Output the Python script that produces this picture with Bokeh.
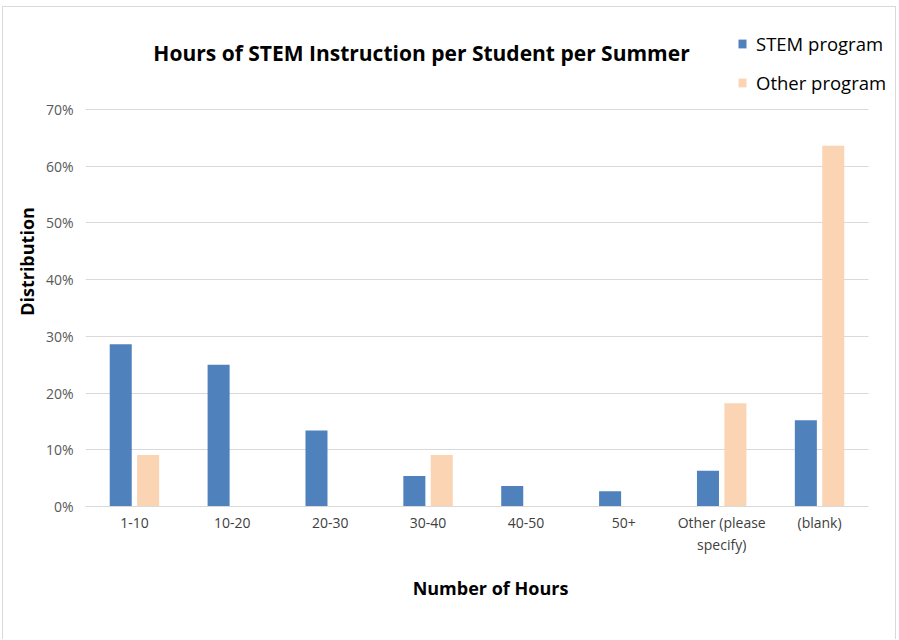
from bokeh.plotting import figure
from bokeh.models import (ColumnDataSource, Range1d, NumeralTickFormatter, FixedTicker,
                          Legend, LegendItem, Label, Grid)
from bokeh.transform import dodge
from bokeh.embed import file_html
from bokeh.resources import INLINE

# ---- data ----
categories = ["1-10", "10-20", "20-30", "30-40", "40-50", "50+",
              "Other (please\nspecify)", "(blank)"]
stem_program = [0.286, 0.250, 0.134, 0.054, 0.036, 0.027, 0.063, 0.152]
other_program = [0.091, 0.0, 0.0, 0.091, 0.0, 0.0, 0.182, 0.636]
series_names = ["STEM program", "Other program"]
y_ticks = [0.0, 0.1, 0.2, 0.3, 0.4, 0.5, 0.6, 0.7]
title_text = "Hours of STEM Instruction per Student per Summer"
x_title = "Number of Hours"
y_title = "Distribution"

STEM_COLOR = "#4F81BD"
OTHER_COLOR = "#FBD4B4"
FONT = "Open Sans"

idx = list(range(len(categories)))
centers = [i + 0.5 for i in idx]
src = ColumnDataSource(dict(xc=centers, stem=stem_program, other=other_program))

# figure placed at page (3,7) inside a light-grey border (left/top/right)
p = figure(width=894, height=633, x_range=Range1d(0, 8.276),
           y_range=Range1d(0, 0.864), output_backend="svg", toolbar_location=None,
           min_border_left=82, min_border_right=2, min_border_top=9,
           min_border_bottom=134)
p.styles = {"margin-left": "2px", "margin-top": "6px",
            "border-left": "1px solid #d9d9d9", "border-top": "1px solid #d9d9d9",
            "border-right": "1px solid #d9d9d9"}
p.outline_line_color = None
p.background_fill_color = "white"
p.border_fill_color = "white"

r1 = p.vbar(x=dodge("xc", -0.14), top="stem", width=0.225,
            source=src, fill_color=STEM_COLOR, line_color=None)
r2 = p.vbar(x=dodge("xc", 0.14), top="other", width=0.225,
            source=src, fill_color=OTHER_COLOR, line_color=None)

# axes
p.yaxis.ticker = FixedTicker(ticks=y_ticks)
p.yaxis.formatter = NumeralTickFormatter(format="0%")
p.yaxis.axis_line_color = None
p.yaxis.major_tick_line_color = None
p.yaxis.minor_tick_line_color = None
p.yaxis.major_label_standoff = 6
p.yaxis.major_label_text_font = FONT
p.yaxis.major_label_text_font_size = "14px"
p.yaxis.major_label_text_color = "#595959"
p.yaxis.axis_label = y_title
p.yaxis.axis_label_text_font = FONT
p.yaxis.axis_label_text_font_style = "bold"
p.yaxis.axis_label_text_font_size = "18px"
p.yaxis.axis_label_text_color = "#000000"
p.yaxis.axis_label_standoff = 4

p.xaxis.ticker = FixedTicker(ticks=centers)
p.xaxis.major_label_overrides = {c: lab for c, lab in zip(centers, categories)}
p.xaxis.bounds = (0, len(categories))
p.xaxis.axis_line_color = "#d9d9d9"
p.xaxis.major_tick_line_color = None
p.xaxis.minor_tick_line_color = None
p.xaxis.major_label_standoff = 0
p.xaxis.major_label_text_font = FONT
p.xaxis.major_label_text_font_size = "14px"
p.xaxis.major_label_text_color = "#404040"
p.xaxis.axis_label = x_title
p.xaxis.axis_label_text_font = FONT
p.xaxis.axis_label_text_font_style = "bold"
p.xaxis.axis_label_text_font_size = "18px"
p.xaxis.axis_label_text_color = "#000000"
p.xaxis.axis_label_standoff = 19

p.xgrid.grid_line_color = None
p.ygrid.grid_line_color = "#d9d9d9"
p.ygrid.grid_line_width = 1
if "cross_bounds" in Grid.properties():
    p.ygrid.cross_bounds = (0, len(categories))

# title
title = Label(x=3.433, y=0.7988, text=title_text, text_align="center",
              text_baseline="middle", text_font=FONT, text_font_style="bold",
              text_font_size="21px", text_color="#000000")
p.add_layout(title)

# legend
legend = Legend(items=[LegendItem(label=series_names[0], renderers=[r1]),
                       LegendItem(label=series_names[1], renderers=[r2])],
                location=(652, 411), orientation="vertical",
                border_line_color=None, background_fill_alpha=0,
                padding=0, margin=0, spacing=14,
                glyph_width=10, glyph_height=11, label_standoff=9,
                label_text_font=FONT, label_text_font_size="18.5px",
                label_text_color="#000000")
p.add_layout(legend)

open("out.html", "w").write(file_html(p, INLINE))
